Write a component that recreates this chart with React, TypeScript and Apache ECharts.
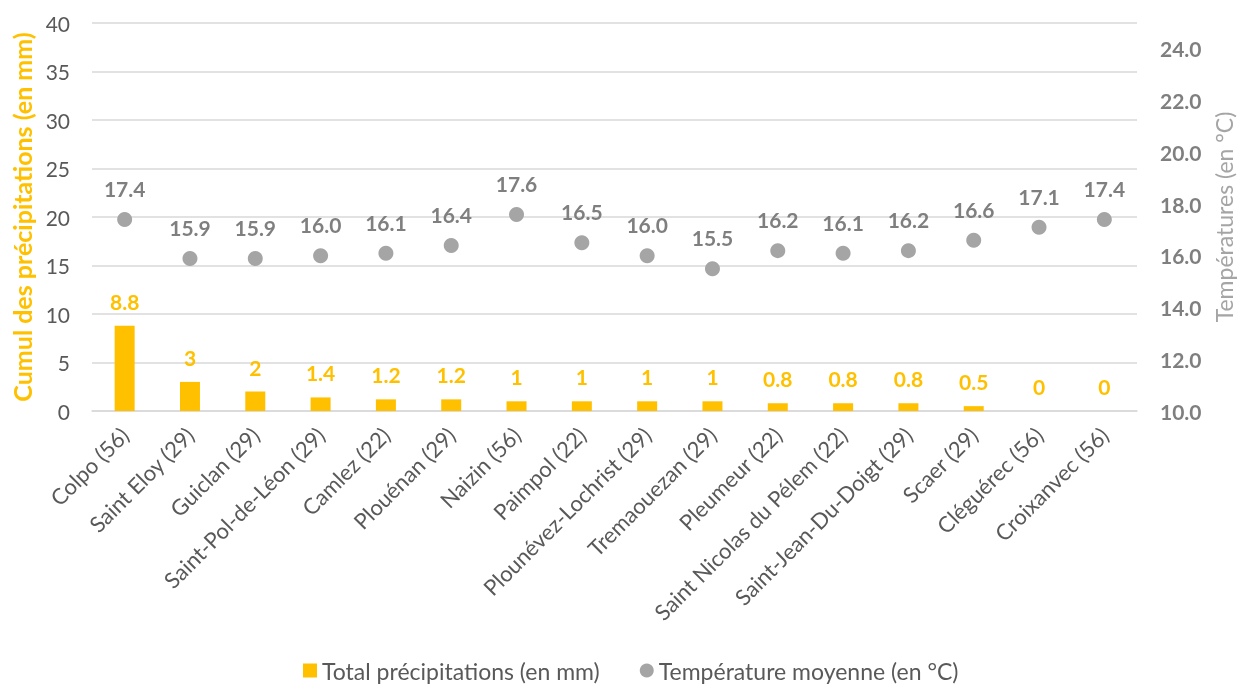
import React, { useEffect, useRef } from "react";
import * as echarts from "echarts";

const categories = [
  "Colpo (56)", "Saint Eloy (29)", "Guiclan (29)", "Saint-Pol-de-Léon (29)", "Camlez (22)",
  "Plouénan (29)", "Naizin (56)", "Paimpol (22)", "Plounévez-Lochrist (29)", "Tremaouezan (29)",
  "Pleumeur (22)", "Saint Nicolas du Pélem (22)", "Saint-Jean-Du-Doigt (29)", "Scaer (29)",
  "Cléguérec (56)", "Croixanvec (56)",
];
const precipitations = [8.8, 3, 2, 1.4, 1.2, 1.2, 1, 1, 1, 1, 0.8, 0.8, 0.8, 0.5, 0, 0];
const temperatures = [17.4, 15.9, 15.9, 16.0, 16.1, 16.4, 17.6, 16.5, 16.0, 15.5, 16.2, 16.1, 16.2, 16.6, 17.1, 17.4];

const FONT = "Lato, 'Noto Sans', sans-serif";

export default function App() {
  const ref = useRef<HTMLDivElement>(null);
  useEffect(() => {
    document.body.style.margin = "0";
    document.body.style.overflow = "hidden";
    const chart = echarts.init(ref.current!, undefined, { renderer: "svg" });
    chart.setOption({
      animation: false,
      textStyle: { fontFamily: FONT },
      grid: { left: 92, right: 102, top: 23, bottom: 274, containLabel: false, outerBoundsMode: "none" },
      legend: {
        bottom: -2,
        left: 298,
        itemGap: 40,
        itemWidth: 14,
        itemHeight: 14,
        textStyle: { fontSize: 23, color: "#595959", fontFamily: FONT },
        data: [
          { name: "Total précipitations (en mm)", icon: "rect" },
          { name: "Température moyenne (en °C)", icon: "circle" },
        ],
      },
      xAxis: {
        type: "category",
        data: categories,
        axisLine: { lineStyle: { color: "#D9D9D9", width: 1.5 } },
        axisTick: { show: false },
        axisLabel: { rotate: 45, fontSize: 22, color: "#595959", margin: 20, interval: 0, fontFamily: FONT },
      },
      yAxis: [
        {
          type: "value",
          min: 0,
          max: 40,
          interval: 5,
          name: "Cumul des précipitations (en mm)",
          nameLocation: "middle",
          nameGap: 50,
          nameTextStyle: { color: "#FFC000", fontSize: 25, fontWeight: "bold", fontFamily: FONT },
          axisLabel: { fontSize: 21, color: "#595959", margin: 22, fontFamily: FONT },
          axisLine: { show: false },
          axisTick: { show: false },
          splitLine: { lineStyle: { color: "#D9D9D9", width: 1.5 } },
        },
        {
          type: "value",
          min: 10,
          max: 25,
          interval: 2,
          name: "Températures (en °C)",
          nameLocation: "middle",
          nameRotate: 90,
          nameGap: 73,
          nameTextStyle: { color: "#A5A5A5", fontSize: 23, fontFamily: FONT },
          axisLabel: {
            fontSize: 21,
            fontWeight: "bold",
            color: "#7F7F7F",
            margin: 23,
            showMaxLabel: false,
            fontFamily: FONT,
            formatter: (v: number) => v.toFixed(1),
          },
          axisLine: { show: false },
          axisTick: { show: false },
          splitLine: { show: false },
        },
      ],
      series: [
        {
          name: "Total précipitations (en mm)",
          type: "bar",
          data: precipitations,
          barWidth: 20,
          itemStyle: { color: "#FFC000" },
          label: {
            show: true,
            position: "top",
            distance: 14,
            color: "#FFC000",
            fontSize: 21,
            fontWeight: "bold",
            fontFamily: FONT,
          },
        },
        {
          name: "Température moyenne (en °C)",
          type: "scatter",
          yAxisIndex: 1,
          data: temperatures,
          symbol: "circle",
          symbolSize: 15,
          itemStyle: { color: "#A5A5A5", opacity: 1 },
          label: {
            show: true,
            position: "top",
            distance: 13,
            color: "#7F7F7F",
            fontSize: 21,
            fontWeight: "bold",
            fontFamily: FONT,
            formatter: (p: any) => Number(p.value).toFixed(1),
          },
        },
      ],
    });
    return () => chart.dispose();
  }, []);
  return <div ref={ref} style={{ position: "fixed", left: 0, top: 0, width: 1239, height: 685 }} />;
}
